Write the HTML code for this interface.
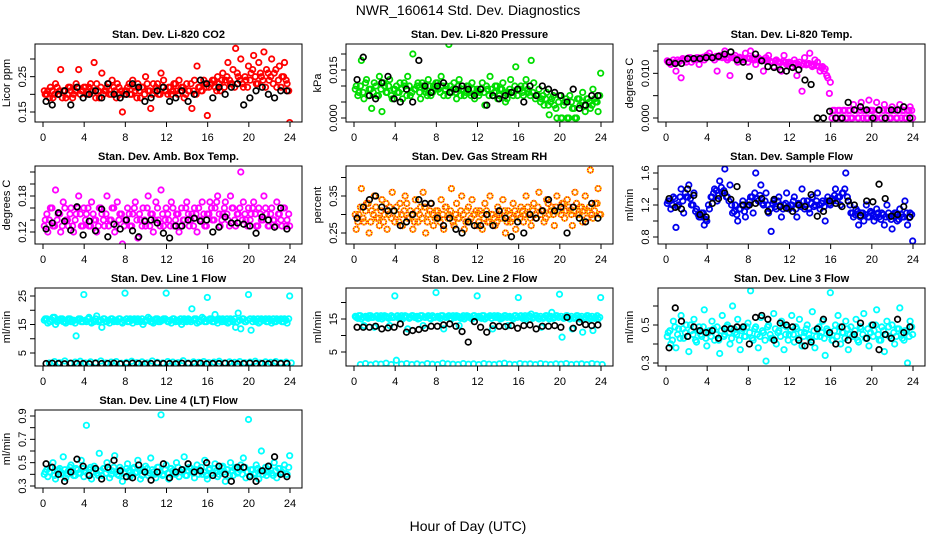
<!DOCTYPE html>
<html><head><meta charset="utf-8"><style>
html,body{margin:0;padding:0;background:#fff;}
svg{display:block;font-family:"Liberation Sans",Arial,sans-serif;}
</style></head><body>
<svg id="chart" width="936" height="540" viewBox="0 0 936 540">
<text x="468" y="15" text-anchor="middle" font-size="14">NWR_160614  Std. Dev. Diagnostics</text>
<text x="468" y="531" text-anchor="middle" font-size="14">Hour of Day (UTC)</text>
</svg>
<script>
const hourTicks=[0,4,8,12,16,20,24];
const co2Color=[.20,.21,.22,.19,.23,.20,.27,.21,.19,.22,.21,.20,.23,.27,.21,.22,.20,.22,.21,.29,.23,.19,.26,.21,.22,.20,.24,.21,.23,.20,.15,.21,.22,.20,.24,.21,.23,.19,.22,.25,.21,.16,.23,.22,.20,.26,.24,.21,.22,.20,.23,.21,.24,.22,.19,.23,.21,.16,.24,.28,.22,.21,.23,.14,.23,.24,.22,.25,.21,.26,.24,.29,.23,.27,.33,.25,.30,.22,.24,.28,.26,.31,.23,.29,.25,.32,.27,.24,.30,.26,.22,.28,.25,.29,.23,.12];
const co2Core=[.21,.20,.19,.21,.20,.22,.21,.19,.21,.20,.22,.19,.21,.22,.20,.21,.22,.20,.23,.21,.19,.21,.22,.20,.21,.23,.20,.22,.19,.22,.21,.20,.21,.23,.20,.22,.19,.21,.22,.20,.23,.21,.20,.21,.23,.20,.22,.21,.20,.22,.21,.23,.20,.21,.22,.20,.21,.23,.21,.20,.22,.21,.24,.22,.22,.23,.24,.21,.23,.24,.22,.25,.24,.23,.22,.26,.24,.23,.25,.22,.24,.27,.25,.23,.26,.24,.22,.26,.25,.23,.27,.24,.22,.25,.24,.21];
const co2Black=[.18,.17,.20,.21,.17,.22,.19,.20,.21,.19,.23,.20,.19,.20,.23,.22,.18,.19,.21,.22,.18,.19,.21,.18,.20,.24,.23,.19,.22,.20,.22,.23,.17,.19,.21,.22,.20,.19,.21,.21];
const presColor=[.010,.008,.018,.006,.012,.009,.003,.011,.007,.013,.002,.010,.008,.012,.006,.009,.008,.011,.006,.010,.013,.007,.020,.009,.011,.006,.010,.008,.012,.007,.010,.011,.009,.013,.007,.010,.023,.008,.011,.006,.012,.009,.007,.010,.008,.011,.006,.009,.008,.011,.004,.009,.013,.007,.010,.006,.009,.011,.005,.008,.012,.007,.016,.009,.010,.007,.012,.008,.018,.011,.007,.009,.006,.004,.008,.001,.006,.004,.000,.007,.000,.005,.000,.007,.003,.000,.006,.004,.008,.002,.006,.003,.009,.005,.002,.014];
const presCore=[.009,.007,.010,.008,.011,.007,.009,.008,.010,.007,.009,.011,.008,.010,.007,.009,.010,.008,.009,.011,.007,.010,.008,.009,.010,.008,.011,.009,.007,.010,.008,.009,.011,.008,.010,.009,.007,.010,.009,.008,.010,.007,.009,.008,.010,.007,.009,.008,.007,.009,.008,.010,.007,.009,.008,.010,.007,.009,.008,.006,.009,.008,.010,.007,.009,.008,.010,.009,.007,.008,.006,.007,.005,.007,.006,.004,.005,.007,.003,.005,.000,.004,.006,.000,.005,.003,.000,.006,.005,.004,.006,.005,.004,.006,.005,.007];
const presBlack=[.012,.019,.007,.006,.011,.013,.006,.005,.009,.005,.018,.010,.008,.010,.011,.008,.009,.010,.009,.007,.009,.004,.007,.006,.007,.008,.009,.005,.010,.007,.010,.009,.008,.007,.005,.009,.003,.004,.007,.007];
const tempColor=[.0125,.012,.013,.0105,.0125,.009,.013,.0125,.0135,.0125,.013,.0135,.012,.0135,.013,.014,.0145,.0135,.013,.0105,.014,.0135,.015,.013,.0095,.0135,.014,.0125,.0135,.013,.0145,.0125,.015,.0135,.012,.0135,.013,.0105,.0135,.014,.0125,.0115,.013,.0125,.0105,.014,.012,.0125,.0115,.013,.0095,.0125,.006,.0135,.012,.0145,.0115,.013,.0125,.0105,.0115,.011,.009,.008,.0017,0,.0017,0,.0017,0,.0017,0,.003,.0017,0,.0035,.0017,0,.004,.0017,0,.0035,.0017,0,.003,.0017,0,.0025,.0017,0,.003,.0017,0,.0017,.0025,0];
const tempCore=[.0128,.0125,.0122,.0125,.013,.0128,.0133,.013,.0133,.0135,.0133,.0132,.0135,.0134,.0136,.0135,.0138,.0137,.0135,.0138,.0136,.0137,.0139,.0135,.0134,.0137,.0135,.0133,.0136,.0134,.0132,.0134,.0133,.0131,.013,.0132,.0129,.0131,.0128,.013,.0127,.0125,.0128,.0126,.0124,.0127,.0125,.0122,.0124,.0121,.0123,.012,.0118,.0121,.0119,.0122,.0118,.012,.0117,.0115,.0112,.0105,.0095,.0055,0,.0017,0,.0017,0,.0017,0,.0017,0,.0017,0,.0017,0,.0017,0,.0017,.0017,0,.0017,0,.0017,0,.0017,0,.0017,0,.0017,0,.0017,0,.0017,.0017];
const tempBlack=[.0125,.0122,.0122,.0133,.0133,.0133,.0135,.0135,.0138,.0143,.0148,.013,.0125,.0093,.0143,.0128,.0115,.0113,.0108,.0105,.0113,.0108,.0085,.0075,0,0,.0015,0,0,.0035,.0018,.0025,.0018,0,.0018,0,.0018,.0018,.0025,0];
const ambColor=[.14,.12,.16,.13,.19,.15,.12,.17,.14,.13,.16,.12,.15,.18,.13,.16,.15,.13,.17,.14,.12,.16,.15,.13,.18,.14,.16,.12,.17,.15,.10,.14,.16,.13,.15,.17,.11,.14,.16,.13,.18,.15,.12,.17,.14,.19,.13,.16,.14,.17,.13,.15,.12,.16,.14,.17,.13,.15,.16,.12,.14,.17,.13,.15,.17,.14,.16,.18,.13,.15,.17,.14,.18,.16,.13,.15,.22,.17,.14,.16,.15,.17,.13,.16,.14,.18,.15,.13,.16,.14,.17,.15,.13,.16,.14,.13];
const ambCore=[.13,.15,.14,.16,.13,.14,.15,.13,.16,.14,.15,.13,.14,.16,.15,.13,.14,.16,.13,.15,.14,.13,.16,.14,.15,.13,.14,.16,.13,.14,.15,.13,.14,.15,.13,.16,.14,.15,.13,.14,.16,.13,.15,.14,.16,.13,.15,.14,.15,.13,.16,.14,.15,.13,.14,.16,.15,.14,.13,.15,.16,.14,.15,.13,.15,.16,.14,.17,.15,.14,.16,.15,.13,.16,.14,.15,.16,.14,.15,.13,.14,.16,.15,.13,.15,.14,.16,.13,.15,.14,.13,.15,.14,.16,.13,.15];
const ambBlack=[.125,.135,.152,.138,.123,.162,.115,.138,.122,.158,.112,.133,.125,.140,.122,.112,.138,.140,.135,.118,.110,.130,.130,.140,.143,.138,.140,.120,.128,.145,.135,.135,.133,.130,.118,.145,.140,.128,.160,.125];
const rhColor=[.26,.30,.37,.28,.33,.25,.31,.35,.29,.27,.34,.30,.26,.32,.36,.28,.30,.33,.27,.35,.29,.31,.26,.34,.28,.32,.36,.25,.30,.33,.27,.31,.29,.34,.26,.32,.30,.37,.27,.33,.29,.35,.26,.31,.28,.34,.30,.27,.31,.26,.33,.28,.35,.30,.27,.32,.29,.34,.25,.31,.28,.33,.26,.30,.32,.28,.35,.30,.27,.33,.29,.36,.31,.28,.34,.30,.32,.27,.35,.31,.33,.29,.34,.31,.27,.36,.30,.32,.28,.35,.31,.42,.29,.33,.37,.30];
const rhCore=[.30,.28,.32,.29,.31,.33,.28,.30,.32,.29,.31,.28,.33,.30,.29,.31,.32,.28,.30,.31,.33,.29,.30,.28,.31,.30,.29,.32,.28,.31,.30,.29,.31,.28,.30,.32,.29,.31,.28,.30,.29,.31,.30,.28,.32,.29,.30,.31,.28,.30,.29,.31,.28,.30,.29,.28,.30,.29,.31,.28,.30,.29,.31,.30,.29,.31,.30,.32,.29,.31,.30,.32,.30,.31,.29,.33,.31,.30,.32,.31,.30,.33,.31,.32,.30,.31,.33,.30,.32,.31,.29,.32,.30,.31,.33,.30];
const rhBlack=[.29,.32,.34,.35,.32,.31,.31,.27,.28,.30,.34,.33,.33,.29,.27,.29,.26,.25,.28,.27,.27,.30,.27,.31,.29,.24,.28,.25,.30,.29,.31,.34,.31,.32,.25,.32,.29,.28,.33,.29];
const flowColor=[1.25,1.15,1.3,0.92,1.2,1.4,1.1,1.3,1.45,1.2,1.35,1.15,1.05,1.1,0.95,1.0,1.15,1.3,1.4,1.25,1.5,1.35,1.65,1.3,1.45,1.1,1.2,1.0,1.15,1.25,1.05,1.2,1.3,1.1,1.6,1.25,1.45,1.2,1.35,1.1,0.87,1.25,1.15,1.3,1.05,1.2,1.35,1.15,1.2,1.3,1.05,1.2,1.4,1.15,1.25,1.1,1.3,1.2,1.35,1.15,1.25,1.0,1.3,1.2,1.25,1.4,1.3,1.2,1.35,1.6,1.25,1.1,1.05,1.15,0.95,1.1,1.0,1.2,1.05,1.1,1.0,1.15,1.05,1.1,0.95,1.2,1.05,0.9,1.1,1.0,1.15,1.05,1.25,0.95,1.1,0.75];
const flowCore=[1.22,1.25,1.2,1.28,1.18,1.3,1.25,1.35,1.3,1.28,1.2,1.12,1.08,1.05,1.1,1.02,1.2,1.3,1.35,1.38,1.32,1.42,1.38,1.3,1.25,1.2,1.12,1.08,1.15,1.2,1.12,1.18,1.25,1.3,1.35,1.28,1.32,1.22,1.25,1.2,1.15,1.22,1.18,1.25,1.2,1.15,1.22,1.18,1.2,1.25,1.15,1.22,1.18,1.25,1.2,1.15,1.22,1.18,1.25,1.2,1.22,1.18,1.25,1.22,1.28,1.32,1.25,1.3,1.35,1.4,1.3,1.2,1.1,1.08,1.12,1.05,1.1,1.08,1.05,1.12,1.08,1.05,1.1,1.02,1.08,1.05,1.1,1.02,1.06,1.1,1.02,1.08,1.05,1.1,1.04,1.08];
const flowBlack=[1.28,1.17,1.15,1.40,1.32,1.08,1.05,1.22,1.28,1.35,1.27,1.43,1.20,1.20,1.22,1.28,1.12,1.27,1.18,1.16,1.12,1.20,1.18,1.33,1.06,1.12,1.25,1.22,1.18,1.25,1.20,1.07,1.25,1.24,1.46,1.28,1.06,1.08,1.18,1.05];
const line1Color=[17,15.5,16,17.5,15,16.5,17,16,15.5,17,16,16.5,11,17,16,25.5,16,17.5,15.5,16,18,16.5,14,17,16,15.5,17,16.5,16,17,15.5,26,16,17,15.5,16.5,17,16,15,16.5,17.5,16,15.5,17,16,16.5,17,26,16,15.5,17,16.5,16,15,17,16,16.5,20.5,17,15.5,16,17.5,16,24.5,17,16,18.5,15.5,16.5,17,16,15.5,17,16,14,19,13.5,17,16,25.5,13,17,16,15.5,17,16.5,16,17,15.5,16,17,16.5,16,17,15.5,25];
const line1Core=[16.5,17,16,16.5,17.5,16,16.5,17,16,16.5,17,16,15.5,16.5,17,16,16.5,17,16,16.5,17,16,16.5,17,16,16.5,17,16,16.5,17,16,16.5,17,16,16.5,17,16,16.5,17,16,16.5,17,16,16.5,17,16,16.5,17,16,16.5,17,16,16.5,17,16,16.5,17,16,16.5,17,16,16.5,17,16,16.5,17,16,16.5,17,16,16.5,17,16,16.5,17,16,16.5,17,16,16.5,17,16,16.5,17,16,16.5,17,16,16.5,17,16,16.5,17,16,16.5,17];
const line1Low=[1.5,2,1.6,2.2,1.4,1.8,2.1,1.5,1.9,1.6,2.2,1.5,1.8,2,1.4,1.7,2.1,1.6,1.9,1.5,2.2,1.7,1.5,2,1.8,1.6,2.3,1.5,1.9,1.7,2,1.6,1.8,2.1,1.5,1.9,1.7,2,1.6,1.8,2.1,1.5,1.9,1.7,2,1.6,1.8,1.5];
const line1Black=[1.3,1.4,1.3,1.2,1.4,1.3,1.3,1.2,1.4,1.3,1.3,1.4,1.2,1.3,1.4,1.3,1.2,1.3,1.4,1.3,1.3,1.2,1.4,1.3,1.3,1.4,1.2,1.3,1.3,1.4,1.3,1.2,1.3,1.4,1.3,1.3,1.2,1.4,1.3,1.3];
const line2Color=[15.5,16,15,13,15.5,16,15.5,12.5,16,15.5,15,16,15.5,13,15.5,22,16,15.5,15,16,12,15.5,16,15.5,15,16,13,15.5,16,15,15.5,23,15.5,16,12,15.5,16,15,15.5,16,13,15.5,15,16,15.5,15,16,22,15.5,16,15,15.5,16,12,15.5,16,15,15.5,16,13,15.5,15,16,21.5,16,15.5,15,16,16.5,15.5,16,15,12.5,15.5,16,15,17,15.5,16,22.5,9.5,15.5,16,15,12,15.5,16,15,11,15.5,16,15,11.5,15.5,15,21.5];
const line2Core=[15.8,15.2,16,15.5,15.8,15.2,16,15.5,15.8,15.2,16,15.5,15.8,15.2,16,15.5,15.8,15.2,16,15.5,15.8,15.2,16,15.5,15.8,15.2,16,15.5,15.8,15.2,16,15.5,15.8,15.2,16,15.5,15.8,15.2,16,15.5,15.8,15.2,16,15.5,15.8,15.2,16,15.5,15.8,15.2,16,15.5,15.8,15.2,16,15.5,15.8,15.2,16,15.5,15.8,15.2,16,15.5,15.8,15.2,16,15.5,15.8,15.2,16,15.5,15.8,15.2,16,15.5,15.8,15.2,16,15.5,15.8,15.2,16,15.5,15.8,15.2,16,15.5,15.8,15.2,16,15.5,15.8,15.2,16,15.5];
const line2Low=[1.2,1.5,1.1,1.4,1.3,1.6,1.2,2.5,1.3,1.5,1.2,1.4,1.1,1.5,1.3,1.2,1.6,1.4,1.3,1.2,1.5,1.3,1.4,1.2,1.5,1.3,1.2,1.4,1.6,1.3,1.2,1.5,1.3,1.4,1.2,1.5,1.3,1.2,1.4,1.3,1.5,1.2,1.3,1.4,1.2,1.5,1.3,1.2];
const line2Black=[12.5,12.5,12.5,12.8,12,12.3,12.5,13.5,11,11.5,11.8,12.2,12.8,12.8,13.2,13.5,12.8,11.2,8,14.2,12.5,11,13,12.8,12.7,13,12.2,13,13.2,12,12.8,12.8,13,12.5,15.5,12.2,14,13.3,13,13.2];
const line3Color=[.46,.40,.52,.38,.48,.55,.43,.50,.36,.47,.53,.41,.49,.44,.58,.39,.47,.52,.42,.49,.35,.55,.45,.50,.40,.60,.46,.53,.37,.48,.44,.51,.68,.42,.49,.38,.54,.46,.31,.50,.43,.56,.40,.47,.52,.37,.49,.45,.55,.41,.48,.53,.39,.46,.50,.43,.57,.38,.48,.44,.52,.34,.47,.67,.42,.50,.55,.40,.46,.52,.37,.49,.45,.53,.41,.48,.56,.43,.39,.50,.47,.58,.42,.49,.36,.52,.44,.50,.40,.48,.59,.43,.47,.30,.52,.45];
const line3Core=[.44,.47,.42,.49,.45,.43,.48,.46,.44,.50,.45,.42,.47,.45,.49,.43,.46,.44,.48,.45,.42,.47,.44,.49,.46,.43,.48,.45,.42,.47,.44,.49,.46,.43,.48,.45,.44,.47,.42,.49,.45,.43,.48,.46,.44,.50,.45,.42,.47,.45,.49,.43,.46,.44,.48,.45,.42,.47,.44,.49,.46,.43,.48,.45,.42,.47,.44,.49,.46,.43,.48,.45,.44,.47,.42,.49,.45,.43,.48,.46,.44,.50,.45,.42,.47,.45,.49,.43,.46,.44,.48,.45,.42,.47,.44,.49];
const line3Black=[.38,.59,.52,.44,.49,.47,.46,.47,.43,.48,.48,.49,.49,.40,.54,.55,.53,.42,.51,.50,.49,.42,.39,.41,.48,.53,.46,.40,.49,.42,.45,.51,.43,.50,.37,.45,.43,.53,.46,.49];
const line4Color=[.42,.38,.46,.50,.36,.44,.40,.55,.37,.43,.48,.39,.45,.41,.52,.38,.82,.44,.36,.47,.41,.58,.39,.45,.50,.37,.43,.56,.40,.46,.34,.42,.49,.38,.45,.41,.52,.36,.44,.47,.39,.54,.42,.37,.46,.91,.40,.48,.36,.45,.41,.50,.38,.44,.55,.39,.46,.42,.37,.48,.44,.40,.52,.36,.45,.41,.49,.38,.43,.47,.34,.44,.50,.39,.46,.42,.48,.54,.37,.87,.44,.40,.48,.36,.60,.43,.39,.47,.41,.50,.37,.45,.42,.48,.40,.56];
const line4Core=[.40,.44,.42,.46,.39,.43,.45,.41,.44,.40,.46,.42,.39,.44,.41,.45,.43,.40,.46,.42,.44,.39,.43,.45,.41,.44,.40,.46,.42,.39,.44,.41,.45,.43,.40,.46,.42,.44,.39,.43,.45,.41,.44,.40,.46,.42,.39,.44,.41,.45,.43,.40,.46,.42,.44,.39,.43,.45,.41,.44,.40,.46,.42,.39,.44,.41,.45,.43,.40,.46,.42,.44,.39,.43,.45,.41,.44,.40,.46,.42,.39,.44,.41,.45,.43,.40,.46,.42,.44,.39,.43,.45,.41,.44,.40,.46];
const line4Black=[.49,.46,.40,.34,.42,.53,.47,.39,.45,.36,.46,.52,.43,.38,.37,.48,.42,.35,.42,.49,.37,.42,.44,.49,.42,.43,.50,.39,.47,.40,.34,.46,.46,.38,.34,.43,.47,.55,.40,.38];

const NS="http://www.w3.org/2000/svg";
const svg=document.getElementById('chart');
function mk(tag,attrs,parent){const e=document.createElementNS(NS,tag);for(const k in attrs)e.setAttribute(k,attrs[k]);(parent||svg).appendChild(e);return e;}

const colLeft=[35,346,658], rowTop=[44,166,288,410], W=267, H=78;
const panels=[
 {key:'co2',title:'Stan. Dev. Li-820 CO2',ylab:'Licor ppm',c:0,r:0,ref:[0.15,112-44,0.30,59-44],ticks:[0.15,0.20,0.25,0.30],labels:['0.15','','0.25',''],col:'#ff0000',series:[co2Core,co2Color],black:co2Black},
 {key:'pressure',title:'Stan. Dev. Li-820 Pressure',ylab:'kPa',c:1,r:0,ref:[0,118-44,0.015,70-44],ticks:[0,0.005,0.01,0.015,0.02],labels:['0.000','','','0.015',''],col:'#00dd00',series:[presCore,presColor],black:presBlack},
 {key:'temp',title:'Stan. Dev. Li-820 Temp.',ylab:'degrees C',c:2,r:0,ref:[0,118-44,0.015,51-44],ticks:[0,0.005,0.01,0.015],labels:['0.000','','0.010',''],col:'#ff00ff',series:[tempCore,tempColor],black:tempBlack},
 {key:'ambtemp',title:'Stan. Dev. Amb. Box Temp.',ylab:'degrees C',c:0,r:1,ref:[0.12,232-166,0.18,196-166],ticks:[0.12,0.14,0.16,0.18,0.20,0.22],labels:['0.12','','','0.18','',''],col:'#ff00ff',series:[ambCore,ambColor],black:ambBlack},
 {key:'rh',title:'Stan. Dev. Gas Stream RH',ylab:'percent',c:1,r:1,ref:[0.25,233-166,0.35,196-166],ticks:[0.25,0.30,0.35,0.40],labels:['0.25','','0.35',''],col:'#ff2000',alt:'#ffe000',series:[rhCore,rhColor],black:rhBlack},
 {key:'sampleflow',title:'Stan. Dev. Sample Flow',ylab:'ml/min',c:2,r:1,ref:[0.8,237-166,1.6,173-166],ticks:[0.8,1.0,1.2,1.4,1.6],labels:['0.8','','1.2','','1.6'],col:'#0000ee',series:[flowCore,flowColor],black:flowBlack},
 {key:'line1',title:'Stan. Dev. Line 1 Flow',ylab:'ml/min',c:0,r:2,ref:[5,353-288,25,296-288],ticks:[5,10,15,20,25],labels:['5','','15','','25'],col:'#00ffff',series:[line1Core,line1Color,line1Low],black:line1Black},
 {key:'line2',title:'Stan. Dev. Line 2 Flow',ylab:'ml/min',c:1,r:2,ref:[5,352-288,15,319-288],ticks:[5,10,15,20],labels:['5','','15',''],col:'#00ffff',series:[line2Core,line2Color,line2Low],black:line2Black},
 {key:'line3',title:'Stan. Dev. Line 3 Flow',ylab:'ml/min',c:2,r:2,ref:[0.3,363-288,0.5,325-288],ticks:[0.3,0.4,0.5,0.6],labels:['0.3','','0.5',''],col:'#00ffff',series:[line3Core,line3Color],black:line3Black},
 {key:'line4',title:'Stan. Dev. Line 4 (LT) Flow',ylab:'ml/min',c:0,r:3,ref:[0.3,486-410,0.9,416-410],ticks:[0.3,0.4,0.5,0.6,0.7,0.8,0.9],labels:['0.3','','0.5','','0.7','','0.9'],col:'#00ffff',series:[line4Core,line4Color],black:line4Black}
];

panels.forEach(p=>{
  const L=colLeft[p.c], T=rowTop[p.r];
  const g=mk('g',{});
  
  
  const xs=h=>L+8+h*(W-20)/24;
  const ys=v=>T+p.ref[1]+(v-p.ref[0])*(p.ref[3]-p.ref[1])/(p.ref[2]-p.ref[0]);
  const t=mk('text',{x:L+W/2,y:T-6,'text-anchor':'middle','font-size':11,'font-weight':'bold'},g);
  t.textContent=p.title;
  
  
  const yl=mk('text',{x:0,y:0,'text-anchor':'middle','font-size':11,transform:`translate(${L-25},${T+H/2}) rotate(-90)`},g);
  yl.textContent=p.ylab;
  
  
  const cid='clip'+p.key;
  const cp=mk('clipPath',{id:cid},g); mk('rect',{x:L,y:T,width:W,height:H},cp);
  const pg=mk('g',{'clip-path':`url(#${cid})`},g);
  p.series.forEach((arr,si)=>{
    const off=si*0.37;
    arr.forEach((v,i)=>{
      const h=(i+0.5+off)*24/arr.length;
      const c=mk('circle',{cx:xs(h),cy:ys(v),r:2.7,fill:'none',stroke:p.col,'stroke-width':1.8},pg);
      
      
      if(p.alt){mk('circle',{cx:xs(h),cy:ys(v),r:2.7,fill:'none',stroke:p.alt,'stroke-width':1.8,'stroke-dasharray':'1.2 1.2'},pg);}
    });
  });
  p.black.forEach((v,i)=>{
    const h=(i+0.5)*24/p.black.length;
    const c=mk('circle',{cx:xs(h),cy:ys(v),r:2.8,fill:'none',stroke:'#000','stroke-width':1.7},pg);
    
    
  });
  const box=mk('rect',{x:L,y:T,width:W,height:H,fill:'none',stroke:'#000','stroke-width':1},g);
  
  
  hourTicks.forEach(h=>{
    mk('line',{x1:xs(h),x2:xs(h),y1:T+H,y2:T+H+5,stroke:'#000'},g);
    const tl=mk('text',{x:xs(h),y:T+H+19,'text-anchor':'middle','font-size':11},g);
    tl.textContent=h;
    
    
  });
  p.ticks.forEach((v,i)=>{
    const y=ys(v);
    mk('line',{x1:L-5,x2:L,y1:y,y2:y,stroke:'#000'},g);
    if(p.labels[i]){
      const tl=mk('text',{x:0,y:0,'text-anchor':'middle','font-size':11,transform:`translate(${L-9},${y}) rotate(-90)`},g);
      tl.textContent=p.labels[i];
      
      
    }
  });
});
</script>
</body></html>
